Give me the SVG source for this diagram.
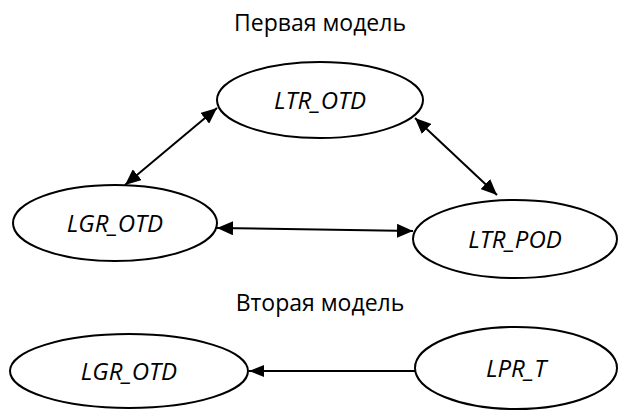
<svg xmlns="http://www.w3.org/2000/svg" width="619" height="411" viewBox="0 0 619 411">
<defs>
<marker id="ah" viewBox="0 0 16 14" refX="16" refY="7" markerWidth="16" markerHeight="14" markerUnits="userSpaceOnUse" orient="auto-start-reverse">
<path d="M0,0 L16,7 L0,14 Z" fill="#000"/>
</marker>
<marker id="ah2" viewBox="0 0 15 12" refX="15" refY="6" markerWidth="15" markerHeight="12" markerUnits="userSpaceOnUse" orient="auto">
<path d="M0,0 L15,6 L0,12 Z" fill="#000"/>
</marker>
<style>
.n{fill:#fff;stroke:#000;stroke-width:2}
.t{font-family:"Open Sans","Noto Sans",sans-serif;font-size:24px;font-style:italic;text-anchor:middle;fill:#000}
.h{font-family:"Open Sans","Noto Sans",sans-serif;font-size:23px;text-anchor:middle;fill:#000}
.c{stroke:#000;stroke-width:2;fill:none}
</style>
</defs>
<rect width="619" height="411" fill="#fff"/>
<text class="h" x="320" y="31">Первая модель</text>
<text class="h" x="320" y="311">Вторая модель</text>
<g id="connectors">
<line class="c" x1="217" y1="108" x2="125" y2="185" marker-start="url(#ah)" marker-end="url(#ah)"/>
<line class="c" x1="415" y1="118" x2="497" y2="195" marker-start="url(#ah)" marker-end="url(#ah)"/>
<line class="c" x1="217" y1="228" x2="413" y2="231" marker-start="url(#ah)" marker-end="url(#ah)"/>
<line class="c" x1="415" y1="371" x2="249" y2="371" marker-end="url(#ah2)"/>
</g>
<g id="ltr_otd"><ellipse class="n" cx="320" cy="100" rx="103" ry="38"/><text class="t" x="320" y="109">LTR_OTD</text></g>
<g id="lgr_otd1"><ellipse class="n" cx="115" cy="223" rx="102" ry="38"/><text class="t" x="115" y="232">LGR_OTD</text></g>
<g id="ltr_pod"><ellipse class="n" cx="515" cy="239" rx="102" ry="39"/><text class="t" x="515" y="248">LTR_POD</text></g>
<g id="lgr_otd2"><ellipse class="n" cx="129" cy="371" rx="119" ry="37"/><text class="t" x="129" y="380">LGR_OTD</text></g>
<g id="lpr_t"><ellipse class="n" cx="516" cy="368" rx="101" ry="41"/><text class="t" x="516" y="377">LPR_T</text></g>
</svg>
